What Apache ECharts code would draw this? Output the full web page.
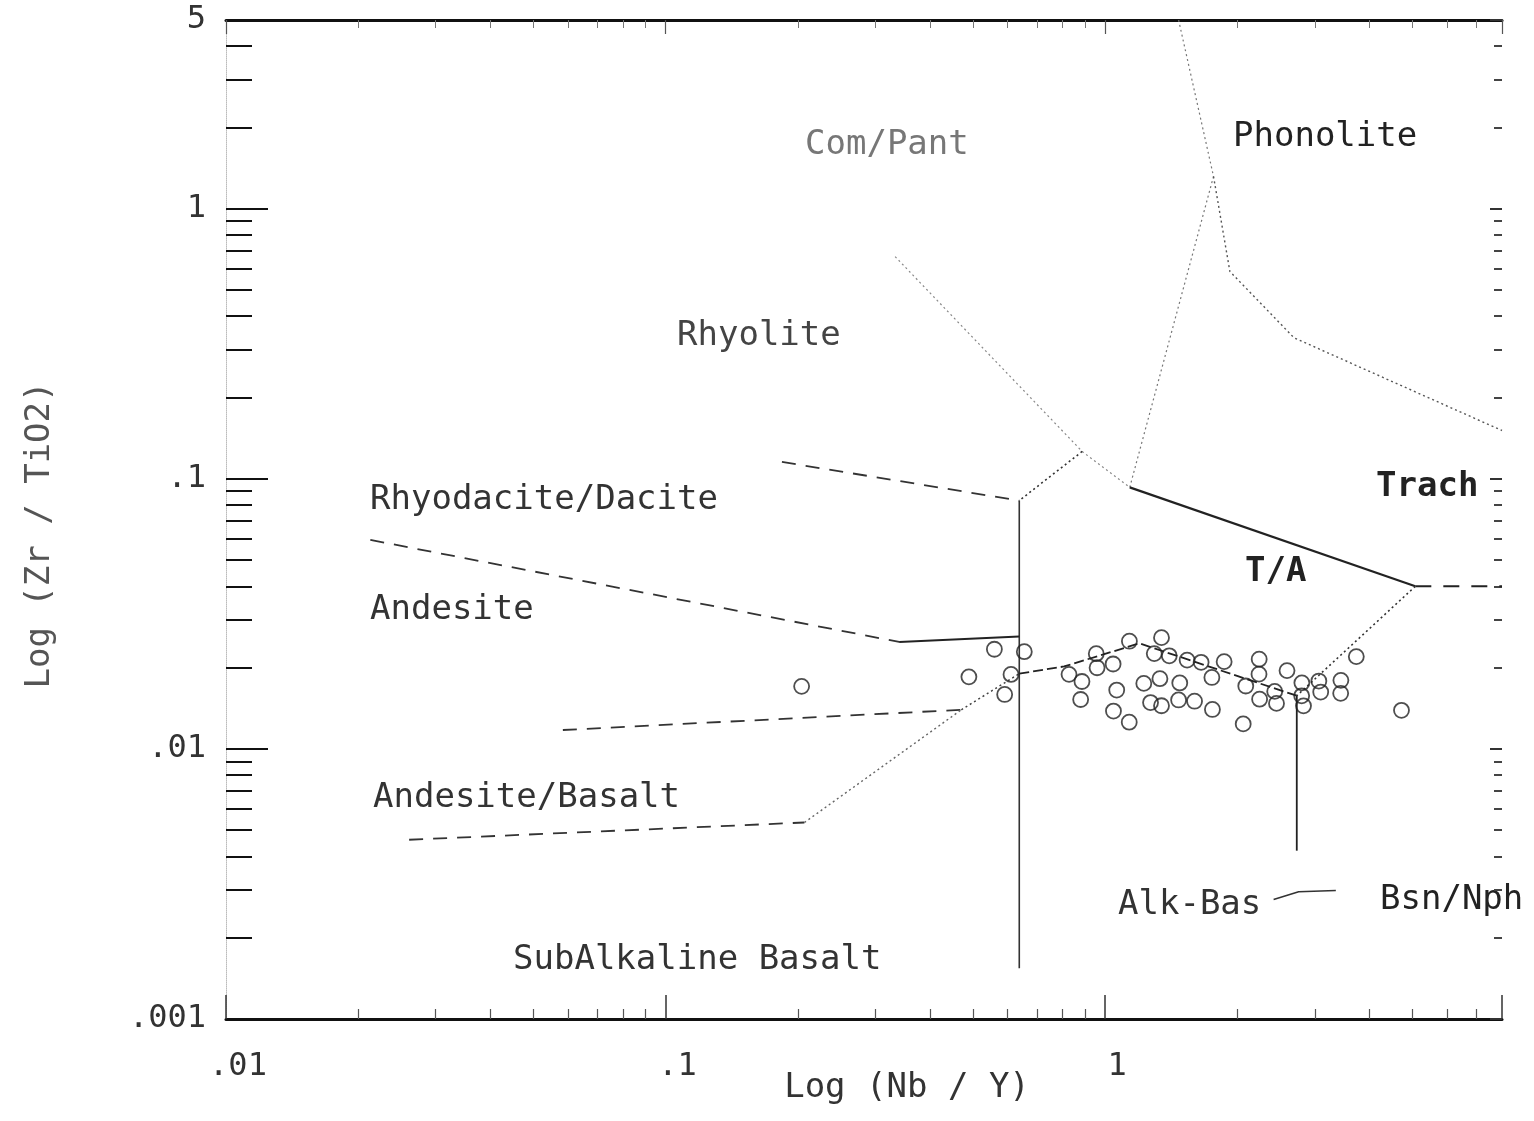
<!DOCTYPE html>
<html>
<head>
<meta charset="utf-8">
<script src="https://cdn.jsdelivr.net/npm/echarts@6/dist/echarts.min.js"></script>
<style>
html,body{margin:0;padding:0;background:#fff;}
#chart{width:1534px;height:1121px;}
</style>
</head>
<body>
<div id="chart"></div>
<script>
// Axis ranges and tick labels
const xRange = [0.01, 8];
const yRange = [0.001, 5];
const xTickLabels = ['.01', '.1', '1'];
const yTickLabels = ['.001', '.01', '.1', '1', '5'];

// Sample points: Nb/Y and Zr/TiO2
const nbY = [0.204,0.490,0.560,0.655,0.611,0.591,0.828,0.886,0.880,0.955,0.959,1.043,1.136,1.344,1.294,1.400,1.063,1.045,1.135,1.225,1.333,1.479,1.269,1.344,1.470,1.598,1.755,1.537,1.654,1.866,1.750,2.242,2.240,2.090,2.062,2.247,2.432,2.455,2.594,2.804,2.801,2.828,3.065,3.095,3.440,3.436,3.729,4.725];
const zrTi = [0.01705,0.01849,0.02339,0.02291,0.01887,0.01591,0.01889,0.01777,0.01524,0.02252,0.01998,0.02063,0.02505,0.02582,0.02254,0.02212,0.01652,0.01381,0.01256,0.01748,0.01820,0.01755,0.01485,0.01445,0.01518,0.01502,0.01400,0.02133,0.02093,0.02104,0.01839,0.02149,0.01892,0.01710,0.01238,0.01528,0.01633,0.01474,0.01950,0.01757,0.01573,0.01444,0.01784,0.01624,0.01794,0.01606,0.02197,0.01390];

// Field boundaries [Nb/Y, Zr/TiO2]
const phonoliteComPant = [[1.47,5],[1.765,1.318]];
const comPantTA = [[1.765,1.318],[1.138,0.093]];
const phonoliteTrach = [[1.765,1.318],[1.923,0.586],[2.69,0.333],[8,0.151]];
const rhyoliteComPant = [[0.333,0.665],[0.887,0.1263],[1.138,0.093]];
const rhyoliteTA = [[0.887,0.1263],[0.638,0.0831]];
const subAlkAlkBas = [[0.638,0.0831],[0.638,0.00154]];
const rhyodaciteRhyolite = [[0.184,0.1155],[0.638,0.0831]];
const taTrach = [[1.138,0.093],[5.08,0.040]];
const trachBsnNph = [[5.08,0.040],[8,0.040]];
const taBsnNph = [[5.08,0.040],[2.73,0.01574]];
const alkBasTA = [[0.638,0.0190],[0.807,0.0202],[1.197,0.0246],[1.965,0.0188],[2.73,0.01574]];
const andesiteRhyodaciteDash = [[0.0213,0.0594],[0.340,0.0249]];
const andesiteRhyodaciteSolid = [[0.340,0.0249],[0.638,0.0261]];
const andesiteAndBasDash = [[0.0584,0.01175],[0.471,0.01396]];
const andesiteAndBasDot = [[0.471,0.01396],[0.638,0.0190]];
const andBasSubAlkDash = [[0.0261,0.00461],[0.207,0.00534]];
const andBasSubAlkDot = [[0.207,0.00534],[0.471,0.01396]];
const alkBasBsnNph = [[2.73,0.01574],[2.73,0.0042]];
const strayStroke = [[2.418,0.00277],[2.757,0.00296],[3.35,0.00299]];

const MONO = '"DejaVu Sans Mono", "Liberation Mono", monospace';

function fmt(labels) {
  return function (v) {
    const s = String(+v.toPrecision(6)).replace(/^0\./, '.');
    return labels.indexOf(s) >= 0 ? s : '';
  };
}

function boundary(data, type, width, color) {
  return {
    type: 'line', data: data, symbol: 'none', silent: true,
    xAxisIndex: 0, yAxisIndex: 0,
    lineStyle: { color: color || '#222', width: width || 1.5, type: type || 'solid' },
    animation: false, z: 2
  };
}

const dashed = [14, 10];
const dotted = [2, 3];

const chart = echarts.init(document.getElementById('chart'), null, { renderer: 'canvas' });

const labelsText = [
  { t: 'Com/Pant', x: 805, y: 145, c: '#777', w: 'normal' },
  { t: 'Phonolite', x: 1233, y: 137, c: '#222', w: 'normal' },
  { t: 'Rhyolite', x: 677, y: 336, c: '#444', w: 'normal' },
  { t: 'Rhyodacite/Dacite', x: 370, y: 500, c: '#333', w: 'normal' },
  { t: 'Andesite', x: 370, y: 610, c: '#333', w: 'normal' },
  { t: 'Trach', x: 1376, y: 487, c: '#222', w: 'bold' },
  { t: 'T/A', x: 1245, y: 572, c: '#222', w: 'bold' },
  { t: 'Andesite/Basalt', x: 373, y: 798, c: '#333', w: 'normal' },
  { t: 'Alk-Bas', x: 1118, y: 905, c: '#333', w: 'normal' },
  { t: 'Bsn/Nph', x: 1380, y: 900, c: '#222', w: 'normal' },
  { t: 'SubAlkaline Basalt', x: 513, y: 960, c: '#333', w: 'normal' }
];

const graphics = labelsText.map(l => ({
  type: 'text', x: l.x, y: l.y, silent: true,
  style: { text: l.t, font: l.w + ' 34px ' + MONO, fill: l.c, align: 'left', verticalAlign: 'middle' }
}));
graphics.push({
  type: 'text', x: 907, y: 1088, silent: true,
  style: { text: 'Log (Nb / Y)', font: '34px ' + MONO, fill: '#333', align: 'center', verticalAlign: 'middle' }
});
graphics.push({
  type: 'text', x: 40, y: 535, rotation: Math.PI / 2, silent: true,
  style: { text: 'Log (Zr / TiO2)', font: '34px ' + MONO, fill: '#555', align: 'center', verticalAlign: 'middle' }
});

const option = {
  backgroundColor: '#fff',
  animation: false,
  grid: { left: 226, right: 32, top: 20, bottom: 102, containLabel: false },
  xAxis: [
    {
      type: 'log', logBase: 10, min: xRange[0], max: xRange[1], position: 'bottom',
      axisLine: { show: true, lineStyle: { color: '#111', width: 3 } },
      axisTick: { show: true, inside: true, length: 24, lineStyle: { color: '#333', width: 1.5 } },
      minorTick: { show: true, splitNumber: 9, length: 10, lineStyle: { color: '#555', width: 1.2 } },
      axisLabel: { formatter: fmt(xTickLabels), fontFamily: MONO, fontSize: 32, color: '#333', margin: 32, padding: [0, 0, 0, 24] },
      splitLine: { show: false }, minorSplitLine: { show: false }
    },
    {
      type: 'log', logBase: 10, min: xRange[0], max: xRange[1], position: 'top',
      axisLine: { show: true, lineStyle: { color: '#111', width: 3 } },
      axisTick: { show: true, inside: true, length: 14, lineStyle: { color: '#555', width: 1.2 } },
      minorTick: { show: true, splitNumber: 9, length: 8, lineStyle: { color: '#777', width: 1 } },
      axisLabel: { show: false }, splitLine: { show: false }
    }
  ],
  yAxis: [
    {
      type: 'log', logBase: 10, min: yRange[0], max: yRange[1], position: 'left',
      axisLine: { show: true, lineStyle: { color: '#bbb', width: 1, type: 'dotted' } },
      axisTick: { show: true, inside: true, length: 42, lineStyle: { color: '#111', width: 2 } },
      minorTick: { show: true, splitNumber: 9, length: 26, lineStyle: { color: '#111', width: 2 } },
      axisLabel: { formatter: fmt(yTickLabels), fontFamily: MONO, fontSize: 32, color: '#333', margin: 20 },
      splitLine: { show: false }
    },
    {
      type: 'log', logBase: 10, min: yRange[0], max: yRange[1], position: 'right',
      axisLine: { show: false },
      axisTick: { show: true, inside: true, length: 12, lineStyle: { color: '#333', width: 2 } },
      minorTick: { show: true, splitNumber: 9, length: 8, lineStyle: { color: '#444', width: 2 } },
      axisLabel: { show: false }, splitLine: { show: false }
    }
  ],
  series: [
    boundary(phonoliteComPant, dotted, 1.2, '#777'),
    boundary(comPantTA, dotted, 1.2, '#777'),
    boundary(phonoliteTrach, dotted, 1.4, '#555'),
    boundary(rhyoliteComPant, dotted, 1.2, '#888'),
    boundary(rhyoliteTA, dotted, 1.6, '#333'),
    boundary(subAlkAlkBas, 'solid', 1.6, '#333'),
    boundary(rhyodaciteRhyolite, dashed, 1.8, '#333'),
    boundary(taTrach, 'solid', 2.2, '#222'),
    boundary(trachBsnNph, [16, 12], 2, '#222'),
    boundary(taBsnNph, dotted, 1.6, '#333'),
    boundary(alkBasTA, [10, 4], 1.8, '#222'),
    boundary(andesiteRhyodaciteDash, dashed, 1.8, '#333'),
    boundary(andesiteRhyodaciteSolid, 'solid', 2, '#222'),
    boundary(andesiteAndBasDash, dashed, 1.8, '#333'),
    boundary(andesiteAndBasDot, dotted, 1.5, '#444'),
    boundary(andBasSubAlkDash, dashed, 1.8, '#333'),
    boundary(andBasSubAlkDot, dotted, 1.4, '#666'),
    boundary(alkBasBsnNph, 'solid', 1.8, '#222'),
    boundary(strayStroke, 'solid', 1.6, '#333'),
    {
      type: 'scatter', xAxisIndex: 0, yAxisIndex: 0,
      data: nbY.map((v, i) => [v, zrTi[i]]),
      symbol: 'circle', symbolSize: 15,
      itemStyle: { color: 'rgba(0,0,0,0)', borderColor: '#222', borderWidth: 1.8 },
      z: 3, silent: true
    }
  ],
  graphic: graphics
};
chart.setOption(option);
</script>
</body>
</html>
